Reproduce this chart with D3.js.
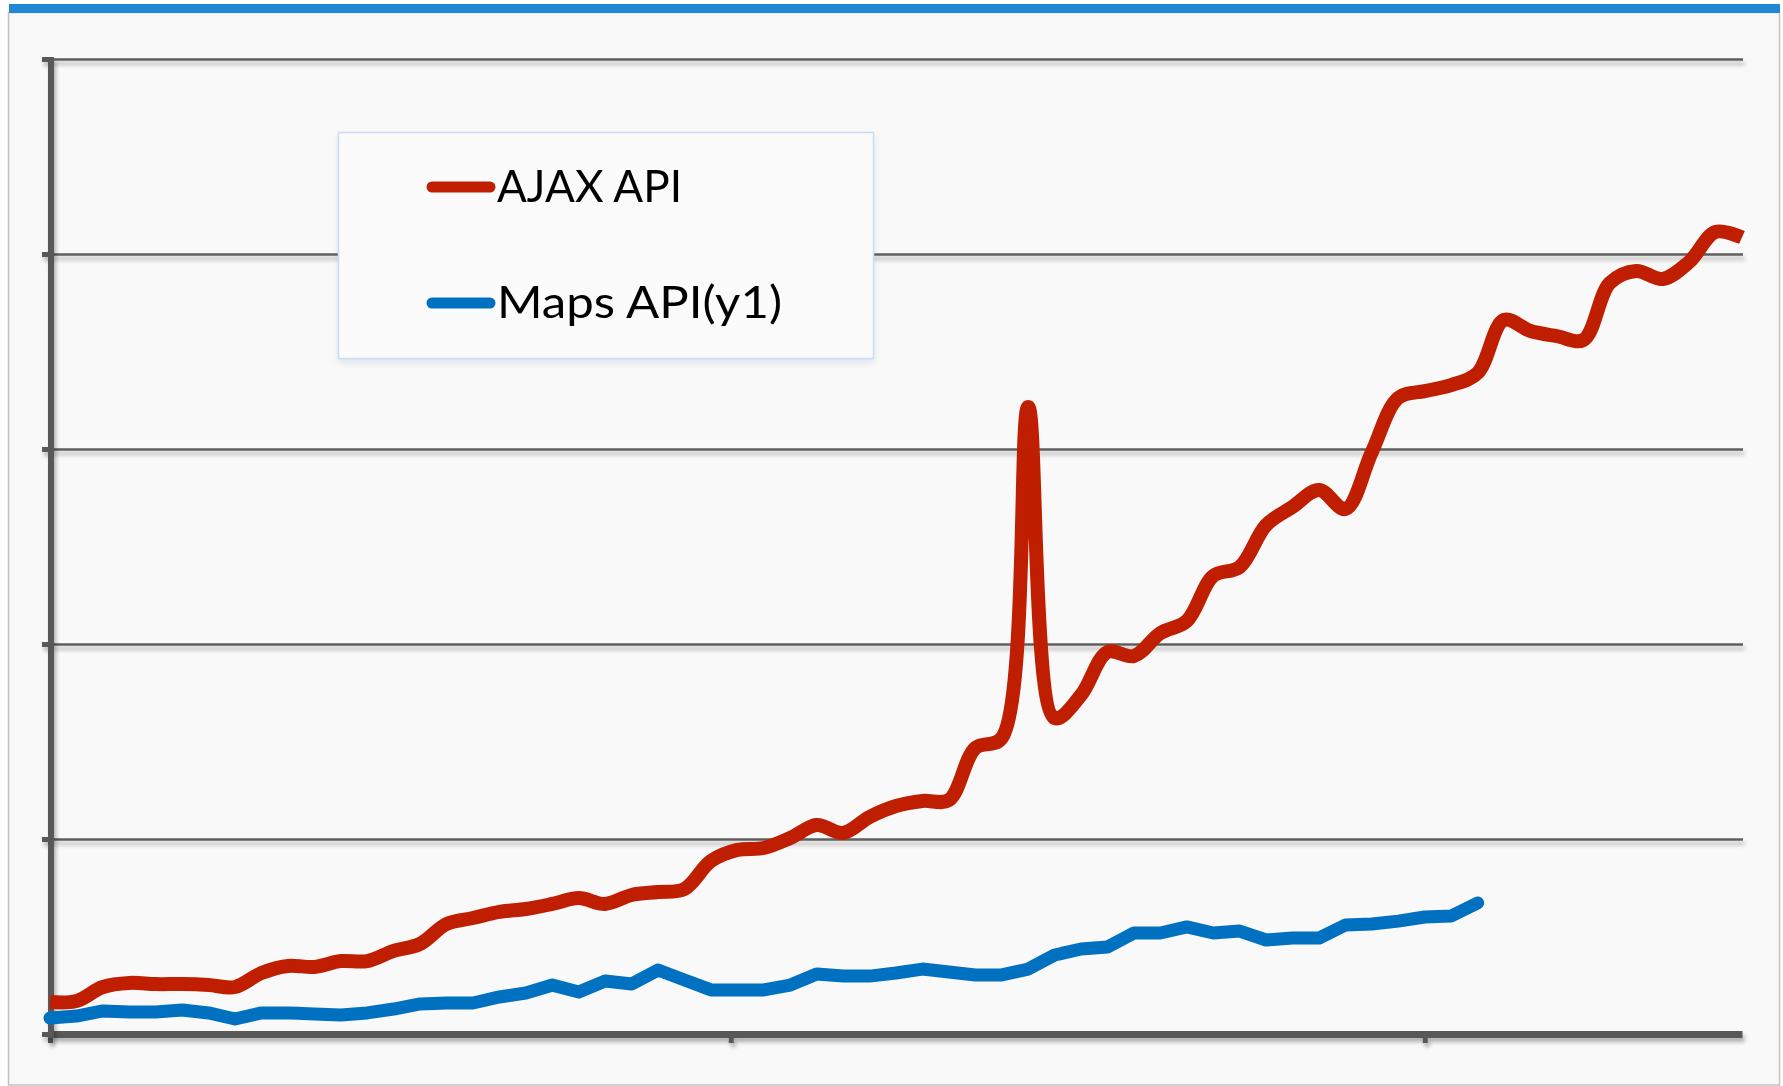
<!DOCTYPE html>
<html>
<head>
<meta charset="utf-8">
<script src="https://cdn.jsdelivr.net/npm/d3@7"></script>
<style>
  html, body { margin: 0; padding: 0; background: #ffffff; }
  svg { display: block; }
</style>
</head>
<body>
<div id="chart"></div>
<script>
// series values, one per period (no labels shown on the chart)
var ajaxApi = [16.4, 16.9, 24.1, 26.2, 25.6, 25.6, 25.1, 24.1, 31.3, 34.9,
  34.4, 37.4, 37.4, 42.6, 46.2, 56.4, 59.5, 62.6, 64.1, 66.7,
  69.7, 66.7, 71.3, 72.8, 74.4, 88.7, 94.4, 95.4, 100.5, 107.2,
  103.1, 111.3, 116.9, 119.5, 120.0, 146.7, 151.8, 321.5, 162.0, 173.8,
  195.9, 193.8, 205.6, 211.8, 234.9, 239.5, 261.0, 270.3, 279.0, 269.2,
  298.5, 326.2, 329.7, 332.8, 339.0, 366.2, 360.5, 357.9, 355.9, 385.1,
  391.3, 387.2, 395.9, 411.3, 408.5];
var mapsApi = [8.2, 9.2, 11.8, 11.3, 11.3, 12.3, 10.8, 7.7, 10.8, 10.8,
  10.3, 9.7, 10.8, 12.8, 15.4, 15.9, 15.9, 19.0, 21.0, 25.1,
  21.5, 27.2, 25.6, 32.8, 27.7, 22.6, 22.6, 22.6, 25.1, 30.8,
  29.7, 29.7, 31.3, 33.3, 31.8, 30.3, 30.3, 33.3, 40.5, 43.6,
  44.6, 51.8, 51.8, 54.9, 51.8, 52.8, 48.2, 49.2, 49.2, 55.9,
  56.4, 57.9, 60.0, 60.5, 67.2];
var seriesNames = ["AJAX API", "Maps API(y1)"];
var seriesColors = ["#c01e00", "#0070c0"];
var yTicks = [0, 100, 200, 300, 400, 500];
var xTicks = [0, 25.75, 52];

var W = 1783, H = 1086;

var svg = d3.select("#chart").append("svg")
  .attr("width", W)
  .attr("height", H);

// soft drop shadow used on axes and gridlines
// (region is big enough to cover the page whatever the group's translate)
var defs = svg.append("defs");
var shadow = defs.append("filter").attr("id", "shadow")
  .attr("filterUnits", "userSpaceOnUse")
  .attr("x", -200).attr("y", -1200).attr("width", W + 400).attr("height", H + 2400);
shadow.append("feGaussianBlur").attr("in", "SourceAlpha").attr("stdDeviation", 2.2);
shadow.append("feOffset").attr("dx", 2).attr("dy", 4).attr("result", "off");
shadow.append("feComponentTransfer").append("feFuncA").attr("type", "linear").attr("slope", 0.3);
var merge = shadow.append("feMerge");
merge.append("feMergeNode");
merge.append("feMergeNode").attr("in", "SourceGraphic");

// panel + top bar
svg.append("rect")
  .attr("x", 8.5).attr("y", 12.5).attr("width", 1771).attr("height", 1072.5)
  .attr("fill", "#f9f9f9").attr("stroke", "#c2c2c2").attr("stroke-width", 1.5);
svg.append("rect")
  .attr("x", 9).attr("y", 4).attr("width", 1771).attr("height", 9)
  .attr("fill", "#2086d6");

var x = d3.scaleLinear().domain([0, ajaxApi.length - 1]).range([50, 1742]);
var y = d3.scaleLinear().domain([0, 500]).range([1034, 59]);

// gridlines
var grid = svg.append("g")
  .attr("transform", "translate(50,0)")
  .attr("filter", "url(#shadow)")
  .call(d3.axisLeft(y).tickValues(yTicks.slice(1)).tickSize(-(1743 - 50)).tickFormat(""));
grid.select(".domain").remove();
grid.selectAll("line").attr("stroke", "#5e5e5e").attr("stroke-width", 2.4);

// x axis
var xAxis = svg.append("g")
  .attr("transform", "translate(0," + y(0) + ")")
  .attr("filter", "url(#shadow)")
  .call(d3.axisBottom(x).tickValues(xTicks).tickSize(9).tickSizeOuter(0).tickFormat(""));
xAxis.select(".domain").attr("stroke", "#595959").attr("stroke-width", 7);
xAxis.selectAll(".tick line").attr("stroke", "#595959").attr("stroke-width", 5);

// y axis
var yAxis = svg.append("g")
  .attr("transform", "translate(51,0)")
  .attr("filter", "url(#shadow)")
  .call(d3.axisLeft(y).tickValues(yTicks).tickSize(9).tickSizeOuter(0).tickFormat(""));
yAxis.select(".domain").attr("stroke", "#595959").attr("stroke-width", 6)
  .attr("d", "M0," + (y(500) - 2) + "V" + (y(0) + 4));
yAxis.selectAll(".tick line").attr("stroke", "#595959").attr("stroke-width", 5);

// lines
var redLine = d3.line()
  .x(function(d, i) { return x(i); })
  .y(function(d) { return y(d); })
  .curve(d3.curveCatmullRom.alpha(0.5));
var blueLine = d3.line()
  .x(function(d, i) { return x(i); })
  .y(function(d) { return y(d); });

svg.append("path")
  .datum(mapsApi)
  .attr("d", blueLine)
  .attr("fill", "none")
  .attr("stroke", seriesColors[1])
  .attr("stroke-width", 13)
  .attr("stroke-linejoin", "round")
  .attr("stroke-linecap", "round");

svg.append("path")
  .datum(ajaxApi)
  .attr("d", redLine)
  .attr("fill", "none")
  .attr("stroke", seriesColors[0])
  .attr("stroke-width", 14)
  .attr("stroke-linejoin", "round")
  .attr("stroke-linecap", "butt");

// legend
var legend = svg.append("g");
legend.append("rect")
  .attr("x", 338.5).attr("y", 132.5).attr("width", 535).attr("height", 226)
  .attr("fill", "#fbfbfc").attr("stroke", "#c8dcf2").attr("stroke-width", 1.5)
  .style("filter", "drop-shadow(0px 4px 3px rgba(120,140,170,0.18))");

var textWidths = [185, 285];
var entries = legend.selectAll(".entry")
  .data(seriesNames)
  .enter().append("g")
  .attr("class", "entry")
  .attr("transform", function(d, i) { return "translate(0," + (i == 0 ? 202 : 318) + ")"; });

entries.append("line")
  .attr("x1", 432).attr("x2", 490)
  .attr("y1", -15).attr("y2", -15)
  .attr("stroke", function(d, i) { return seriesColors[i]; })
  .attr("stroke-width", 11)
  .attr("stroke-linecap", "round");

entries.append("text")
  .attr("x", 497)
  .attr("y", 0)
  .attr("textLength", function(d, i) { return textWidths[i]; })
  .attr("lengthAdjust", "spacingAndGlyphs")
  .style("font-family", "Lato, 'Open Sans', sans-serif")
  .style("font-size", "44px")
  .style("fill", "#000")
  .text(function(d) { return d; });
</script>
</body>
</html>
